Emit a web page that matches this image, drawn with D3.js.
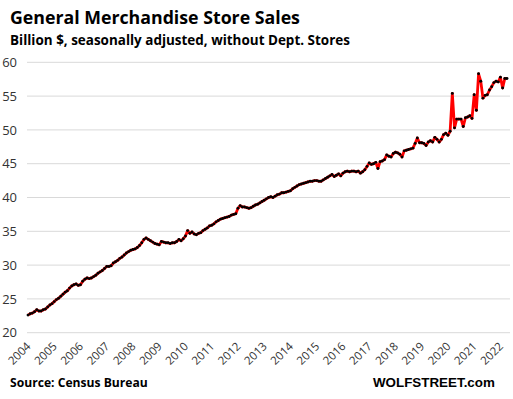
<!DOCTYPE html>
<html>
<head>
<meta charset="utf-8">
<script src="https://cdn.jsdelivr.net/npm/d3@7"></script>
<style>
  html, body { margin: 0; padding: 0; background: #fff; }
  svg { display: block; }
</style>
</head>
<body>
<svg id="chart" width="513" height="399"></svg>
<script>
// ---- data (monthly, Jan 2004 - Apr 2022) ----
const startYear = 2004;
const yearLabels = ["2004","2005","2006","2007","2008","2009","2010","2011","2012","2013","2014","2015","2016","2017","2018","2019","2020","2021","2022"];
const yTicks = [20, 25, 30, 35, 40, 45, 50, 55, 60];
const sales = [
  // 2004
  22.6, 22.8, 22.9, 23.1, 23.4, 23.2, 23.2, 23.4, 23.5, 23.8, 24.1, 24.3,
  // 2005
  24.6, 24.9, 25.1, 25.4, 25.7, 26.0, 26.2, 26.6, 26.9, 27.1, 27.2, 27.0,
  // 2006
  27.1, 27.6, 27.9, 28.1, 28.0, 28.1, 28.3, 28.5, 28.8, 29.0, 29.2, 29.5,
  // 2007
  29.8, 29.8, 29.9, 30.3, 30.5, 30.7, 31.0, 31.2, 31.5, 31.8, 32.0, 32.2,
  // 2008
  32.3, 32.4, 32.6, 32.9, 33.3, 33.8, 34.0, 33.8, 33.6, 33.4, 33.2, 33.1,
  // 2009
  33.0, 33.5, 33.4, 33.3, 33.3, 33.2, 33.3, 33.3, 33.5, 33.8, 33.6, 33.9,
  // 2010
  34.3, 35.1, 34.7, 34.9, 34.6, 34.5, 34.7, 34.8, 35.1, 35.3, 35.5, 35.8,
  // 2011
  35.9, 36.1, 36.4, 36.6, 36.8, 36.9, 37.0, 37.1, 37.2, 37.4, 37.5, 37.6,
  // 2012
  38.4, 38.8, 38.6, 38.6, 38.5, 38.4, 38.5, 38.7, 38.9, 39.0, 39.2, 39.4,
  // 2013
  39.6, 39.8, 40.0, 40.1, 40.0, 40.2, 40.4, 40.5, 40.7, 40.7, 40.8, 40.9,
  // 2014
  41.0, 41.3, 41.5, 41.7, 41.9, 42.0, 42.1, 42.2, 42.3, 42.4, 42.4, 42.5,
  // 2015
  42.5, 42.4, 42.4, 42.6, 42.8, 43.0, 43.2, 43.4, 43.1, 43.3, 43.5, 43.2,
  // 2016
  43.6, 43.8, 43.9, 43.8, 43.9, 43.9, 43.8, 43.9, 43.6, 43.8, 44.1, 44.6,
  // 2017
  45.1, 44.9, 45.0, 45.2, 44.3, 45.3, 45.4, 45.6, 46.3, 46.1, 46.0, 46.5,
  // 2018
  46.7, 46.6, 46.4, 46.0, 46.9, 47.0, 47.1, 47.2, 47.3, 48.0, 48.8, 48.1,
  // 2019
  48.1, 48.0, 47.7, 48.2, 48.4, 48.2, 48.9, 48.6, 48.2, 48.6, 49.3, 49.5,
  // 2020
  49.2, 49.8, 55.4, 50.3, 51.6, 51.6, 51.6, 50.5, 51.8, 51.9, 52.1, 51.7,
  // 2021
  55.2, 52.9, 58.3, 57.2, 54.7, 55.1, 55.2, 55.9, 56.4, 57.0, 57.2, 57.1,
  // 2022
  57.8, 56.2, 57.6, 57.6
];

// ---- layout ----
const svg = d3.select("#chart");
const x = d3.scaleLinear().domain([0, sales.length - 1]).range([28, 507]);
const y = d3.scaleLinear().domain([20, 60]).range([332.7, 62.3]);

function fitWidth(sel, target) {
  const node = sel.node();
  const w = node.getComputedTextLength();
  const fs = parseFloat(sel.attr("font-size"));
  sel.attr("font-size", (fs * target / w).toFixed(2));
}

// title
const title = svg.append("text")
  .attr("x", 10).attr("y", 24)
  .attr("font-family", "Open Sans, Liberation Sans, sans-serif")
  .attr("font-weight", "bold").attr("font-size", 18)
  .attr("fill", "#000")
  .text("General Merchandise Store Sales");
fitWidth(title, 290);

const sub = svg.append("text")
  .attr("x", 10).attr("y", 45)
  .attr("font-family", "Open Sans, Liberation Sans, sans-serif")
  .attr("font-weight", "bold").attr("font-size", 14)
  .attr("fill", "#000")
  .text("Billion $, seasonally adjusted, without Dept. Stores");
fitWidth(sub, 340);

// gridlines
svg.append("g").selectAll("line").data(yTicks).join("line")
  .attr("x1", 27).attr("x2", 510)
  .attr("y1", d => y(d)).attr("y2", d => y(d))
  .attr("stroke", "#d9d9d9").attr("stroke-width", 1);

// y axis labels
const yAxis = d3.axisLeft(y).tickValues(yTicks).tickSize(0).tickPadding(0);
const gy = svg.append("g").attr("transform", "translate(17,0)").call(yAxis);
gy.select(".domain").remove();
gy.selectAll("text")
  .attr("font-family", "Open Sans, Liberation Sans, sans-serif")
  .attr("font-size", 13).attr("fill", "#333");

// x axis labels (rotated)
const yearIdx = yearLabels.map((d, i) => i * 12);
const xAxis = d3.axisBottom(x).tickValues(yearIdx).tickFormat((d, i) => yearLabels[i]).tickSize(0);
const gx = svg.append("g").attr("transform", "translate(0,340)").call(xAxis);
gx.select(".domain").remove();
gx.selectAll("text")
  .attr("font-family", "Open Sans, Liberation Sans, sans-serif")
  .attr("font-size", 11.5).attr("fill", "#333")
  .attr("text-anchor", "end")
  .attr("dy", null).attr("y", 0)
  .attr("transform", "translate(3,7) rotate(-45)");

// line
const line = d3.line().x((d, i) => x(i)).y(d => y(d));
svg.append("path").datum(sales)
  .attr("d", line)
  .attr("fill", "none").attr("stroke", "#ff0000")
  .attr("stroke-width", 2.8).attr("stroke-linejoin", "round");

svg.append("g").selectAll("circle").data(sales).join("circle")
  .attr("cx", (d, i) => x(i)).attr("cy", d => y(d))
  .attr("r", 1.45).attr("fill", "#000");

// footer
const src = svg.append("text")
  .attr("x", 10).attr("y", 387)
  .attr("font-family", "Open Sans, Liberation Sans, sans-serif")
  .attr("font-weight", "bold").attr("font-size", 13)
  .attr("fill", "#000")
  .text("Source: Census Bureau");
fitWidth(src, 138);

const wm = svg.append("text")
  .attr("x", 373).attr("y", 387)
  .attr("font-family", "Liberation Sans, Arial, sans-serif")
  .attr("font-weight", "bold").attr("font-size", 15)
  .attr("fill", "#000")
  .text("WOLFSTREET.com");
fitWidth(wm, 122);
</script>
</body>
</html>
